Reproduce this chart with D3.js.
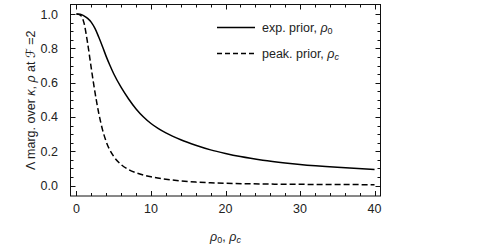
<!DOCTYPE html>
<html><head><meta charset="utf-8">
<script src="https://cdn.jsdelivr.net/npm/d3@7"></script>
<style>
body{margin:0;background:#fff;}
text{font-family:"Liberation Sans",Arial,sans-serif;fill:#222;}
</style></head>
<body><svg id="c" width="500" height="246"></svg>
<script>
const xExp = [0,0.5,1,1.5,2,2.5,3,3.5,4,4.5,5,6,7,8,9,10,11,12,14,16,18,20,22,25,28,30,35,40];
const yExp = [1.0,0.999,0.99,0.975,0.952,0.915,0.865,0.81,0.752,0.70,0.652,0.572,0.505,0.447,0.40,0.362,0.332,0.307,0.267,0.235,0.208,0.187,0.169,0.148,0.132,0.123,0.106,0.093];
const xPeak = [0,0.5,1,1.5,2,2.5,3,3.5,4,5,6,7,8,9,10,12,14,16,18,20,25,30,35,40];
const yPeak = [1.0,0.995,0.95,0.83,0.68,0.54,0.42,0.325,0.255,0.17,0.122,0.093,0.074,0.061,0.051,0.037,0.027,0.02,0.016,0.013,0.009,0.007,0.006,0.005];
const xTicks = [0,10,20,30,40];
const yTicks = [0.0,0.2,0.4,0.6,0.8,1.0];
const legendLabels = [["exp. prior, ","0"],["peak. prior, ","c"]];

const svg = d3.select("#c");
const L=70.5, R=380.5, T=4.5, B=196;
const x = d3.scaleLinear().domain([-0.8,40.8]).range([L,R]);
const y = d3.scaleLinear().domain([-0.061,1.056]).range([B,T]);

const defs = svg.append("defs");
defs.append("clipPath").attr("id","clip").append("rect").attr("x",L).attr("y",T).attr("width",R-L).attr("height",B-T);

const line = d3.line().x(d=>x(d[0])).y(d=>y(d[1])).curve(d3.curveMonotoneX);
const g = svg.append("g").attr("clip-path","url(#clip)");
g.append("path").datum(xExp.map((v,i)=>[v,yExp[i]])).attr("d",line)
 .attr("fill","none").attr("stroke","#000").attr("stroke-width",1.5);
g.append("path").datum(xPeak.map((v,i)=>[v,yPeak[i]])).attr("d",line)
 .attr("fill","none").attr("stroke","#000").attr("stroke-width",1.5).attr("stroke-dasharray","6,3");

// frame
svg.append("rect").attr("x",L).attr("y",T).attr("width",R-L).attr("height",B-T)
 .attr("fill","none").attr("stroke","#111").attr("stroke-width",1);

const xMinor = d3.range(0,41,2).filter(v=>v%10!==0);
const yMinor = d3.range(0,1.001,0.05).map(v=>+v.toFixed(2)).filter(v=>Math.round(v*100)%20!==0);
const tk = svg.append("g").attr("stroke","#111").attr("stroke-width",1);
function tickX(vals,len){vals.forEach(v=>{const px=Math.round(x(v))+0.5;
  tk.append("line").attr("x1",px).attr("x2",px).attr("y1",B).attr("y2",B-len);
  tk.append("line").attr("x1",px).attr("x2",px).attr("y1",T).attr("y2",T+len);});}
function tickY(vals,len){vals.forEach(v=>{const py=Math.round(y(v))+0.5;
  tk.append("line").attr("y1",py).attr("y2",py).attr("x1",L).attr("x2",L+len);
  tk.append("line").attr("y1",py).attr("y2",py).attr("x1",R).attr("x2",R-len);});}
tickX(xTicks,5); tickX(xMinor,3); tickY(yTicks,5); tickY(yMinor,3);

xTicks.forEach(v=>svg.append("text").attr("x",x(v)).attr("y",213).attr("text-anchor","middle")
 .attr("font-size",12.5).text(d3.format("d")(v)));
yTicks.forEach(v=>svg.append("text").attr("x",58).attr("y",y(v)+4.5).attr("text-anchor","end")
 .attr("font-size",12.5).text(d3.format(".1f")(v)));

// x label
const xl = svg.append("text").attr("x",(L+R)/2).attr("y",241).attr("text-anchor","middle").attr("font-size",12.5);
xl.append("tspan").attr("font-style","italic").text("ρ");
xl.append("tspan").attr("font-size",9).attr("dy",2).text("0");
xl.append("tspan").attr("dy",-2).text(", ");
xl.append("tspan").attr("font-style","italic").text("ρ");
xl.append("tspan").attr("font-size",9).attr("dy",2).attr("font-style","italic").text("c");

// y label
const yl = svg.append("text").attr("transform",`translate(35,${(T+B)/2}) rotate(-90)`)
 .attr("text-anchor","middle").attr("font-size",12.5);
yl.append("tspan").text("Λ marg. over ");
yl.append("tspan").attr("font-style","italic").text("κ");
yl.append("tspan").text(", ");
yl.append("tspan").attr("font-style","italic").text("ρ");
yl.append("tspan").text(" at ");
yl.append("tspan").attr("font-family","DejaVu Sans").text("ℱ");
yl.append("tspan").text(" =2");

// legend
const lg = [[27.5,null],[53.5,"5,3"]];
lg.forEach((d,i)=>{
  svg.append("line").attr("x1",217).attr("x2",255).attr("y1",d[0]).attr("y2",d[0])
   .attr("stroke","#000").attr("stroke-width",1.5).attr("stroke-dasharray",d[1]);
  const t = svg.append("text").attr("x",262).attr("y",d[0]+4.5).attr("font-size",12.5);
  t.append("tspan").text(legendLabels[i][0]);
  t.append("tspan").attr("font-style","italic").text("ρ");
  t.append("tspan").attr("font-size",9).attr("dy",2).attr("font-style",i===1?"italic":"normal").text(legendLabels[i][1]);
});
</script></body></html>
